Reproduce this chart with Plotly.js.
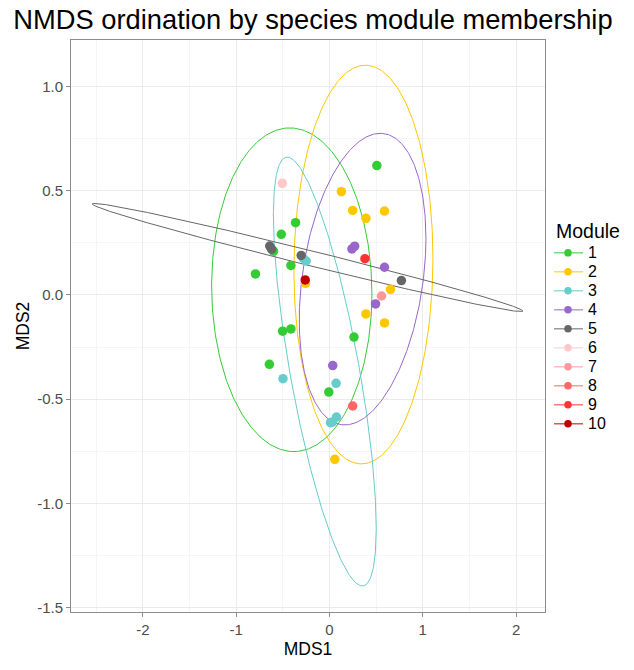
<!DOCTYPE html>
<html>
<head>
<meta charset="utf-8">
<script src="https://cdn.plot.ly/plotly-3.0.1.min.js"></script>
<style>html,body{margin:0;padding:0;background:#fff;}#chart{width:634px;height:670px;}</style>
</head>
<body>
<div id="chart"></div>
<script>
// Module labels and colours
const modules = ["1","2","3","4","5","6","7","8","9","10"];
const moduleColors = ["#33CC33","#FFC700","#66CCCC","#9966CC","#666666","#FFC8C8","#FF9999","#FF6666","#FF3333","#C00000"];

// NMDS scores per module
const mod1X = [0.508,-0.363,-0.516,-0.600,-0.413,-0.793,-0.502,-0.413,0.263,-0.644,-0.007];
const mod1Y = [0.621,0.347,0.291,0.210,0.142,0.101,-0.174,-0.163,-0.202,-0.333,-0.466];
const mod2X = [0.128,0.249,0.391,0.590,-0.256,0.654,0.391,0.590,0.057];
const mod2Y = [0.496,0.406,0.368,0.403,0.056,0.027,-0.091,-0.134,-0.789];
const mod3X = [-0.280,-0.250,-0.498,0.071,0.075,0.011,0.030];
const mod3Y = [0.175,0.163,-0.402,-0.424,-0.586,-0.613,-0.610];
const mod4X = [0.241,0.270,0.590,0.494,0.035];
const mod4Y = [0.221,0.234,0.133,-0.043,-0.339];
const mod5X = [-0.640,-0.620,-0.303,0.771];
const mod5Y = [0.235,0.220,0.190,0.069];
const mod6X = [-0.505]; const mod6Y = [0.536];
const mod7X = [0.558];  const mod7Y = [-0.005];
const mod8X = [0.249];  const mod8Y = [-0.533];
const mod9X = [0.380];  const mod9Y = [0.174];
const mod10X = [-0.260]; const mod10Y = [0.072];

const modX = [mod1X,mod2X,mod3X,mod4X,mod5X,mod6X,mod7X,mod8X,mod9X,mod10X];
const modY = [mod1Y,mod2Y,mod3Y,mod4Y,mod5Y,mod6Y,mod7Y,mod8Y,mod9Y,mod10Y];

// 95% ellipses for modules 1-5 (data units): centre, half x-extent, half y-extent, phase cosine
const ellCX = [-0.404, 0.364, -0.050, 0.355, -0.235];
const ellCY = [0.025, 0.146, -0.3675, 0.076, 0.180];
const ellW  = [0.859, 0.745, 0.551, 0.679, 2.308];
const ellH  = [0.777, 0.957, 1.0295, 0.700, 0.2597];
const ellCosPhi = [-0.025, 0.03, -0.73, 0.28, -0.9898];

const xTicks = [-2,-1,0,1,2];
const yTicks = [-1.5,-1.0,-0.5,0.0,0.5,1.0];

const font = "Liberation Sans, Arial, sans-serif";
const traces = [];

// ellipses
for (let i = 0; i < ellCX.length; i++) {
  const phi = Math.acos(ellCosPhi[i]);
  const ex = [], ey = [];
  for (let k = 0; k <= 360; k++) {
    const t = k * Math.PI / 180;
    ex.push(ellCX[i] + ellW[i] * Math.cos(t));
    ey.push(ellCY[i] + ellH[i] * Math.cos(t - phi));
  }
  traces.push({x: ex, y: ey, type: "scatter", mode: "lines", showlegend: false,
    hoverinfo: "skip", line: {color: moduleColors[i], width: 1}, legendgroup: modules[i]});
}
// points
for (let i = 0; i < modules.length; i++) {
  traces.push({x: modX[i], y: modY[i], type: "scatter", mode: "markers", name: modules[i],
    showlegend: false, legendgroup: modules[i],
    marker: {color: moduleColors[i], size: 9.5}});
}
// legend keys (point + line, as in the original)
for (let i = 0; i < modules.length; i++) {
  traces.push({x: [null], y: [null], type: "scatter", mode: "lines+markers",
    name: '<span style="font-size:16px">' + modules[i] + '</span>',
    legendgroup: modules[i], showlegend: true,
    marker: {color: moduleColors[i], size: 7.5}, line: {color: moduleColors[i], width: 1}});
}

const layout = {
  width: 634, height: 670,
  paper_bgcolor: "#ffffff", plot_bgcolor: "#ffffff",
  margin: {l: 71, r: 87, t: 40, b: 58, pad: 0},
  font: {family: font, color: "#000"},
  title: {text: "NMDS ordination by species module membership", font: {size: 27.3, family: font, color: "#000"},
    xref: "container", x: 0.021, xanchor: "left", yref: "container", y: 0.971, yanchor: "middle"},
  xaxis: {range: [-2.77, 2.31], tickvals: xTicks, ticktext: xTicks.map(String),
    showgrid: true, gridcolor: "#EBEBEB", gridwidth: 1,
    minor: {dtick: 0.5, tick0: 0, showgrid: true, gridcolor: "#F5F5F5", gridwidth: 1},
    zeroline: false, showline: true, mirror: true, linecolor: "#8C8C8C", linewidth: 1,
    ticks: "outside", ticklen: 4, tickcolor: "#8C8C8C",
    tickfont: {size: 15, color: "#4D4D4D", family: font},
    title: {text: "MDS1", font: {size: 17.5, color: "#000", family: font}, standoff: 5}},
  yaxis: {range: [-1.522, 1.224], tickvals: yTicks, ticktext: yTicks.map(v => v.toFixed(1)),
    showgrid: true, gridcolor: "#EBEBEB", gridwidth: 1,
    minor: {dtick: 0.25, tick0: 0, showgrid: true, gridcolor: "#F5F5F5", gridwidth: 1},
    zeroline: false, showline: true, mirror: true, linecolor: "#8C8C8C", linewidth: 1,
    ticks: "outside", ticklen: 4, tickcolor: "#8C8C8C",
    tickfont: {size: 15, color: "#4D4D4D", family: font},
    title: {text: "MDS2", font: {size: 17.5, color: "#000", family: font}, standoff: 3}},
  legend: {x: 1.019, xanchor: "left", y: 0.5, yanchor: "middle",
    title: {text: "Module", font: {size: 19.5, family: font, color: "#000"}},
    font: {size: 12, family: font, color: "#000"}, tracegroupgap: 0, itemwidth: 30, indentation: -6,
    bgcolor: "rgba(0,0,0,0)"},
  showlegend: true
};

Plotly.newPlot("chart", traces, layout, {displayModeBar: false, staticPlot: true});
</script>
</body>
</html>
